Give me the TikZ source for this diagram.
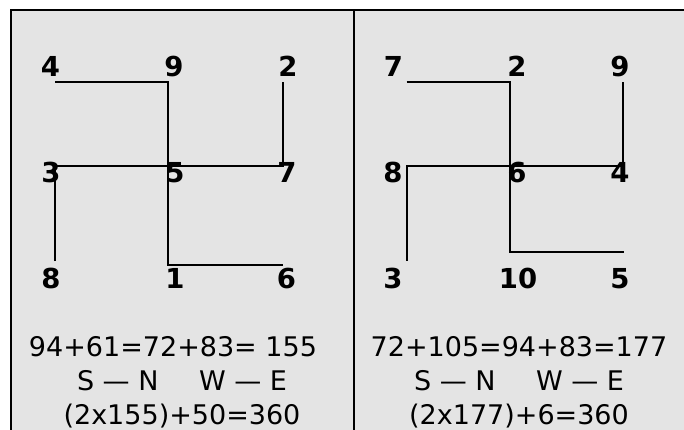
\documentclass[tikz,border=0pt]{standalone}
\usepackage{fontspec}
\setmainfont{DejaVu Sans}
\definecolor{panelgray}{HTML}{E4E4E4}

\begin{document}
\begin{tikzpicture}[x=1pt, y=-1pt,
    num/.style={font=\fontsize{27.5}{27.5}\selectfont\bfseries, inner sep=0pt},
    sumline/.style={font=\fontsize{27}{33}\selectfont, inner sep=0pt, anchor=base},
    arm/.style={draw=black, line width=1.7pt},
    frame/.style={draw=black, line width=2.2pt},
  ]

  \useasboundingbox (0,0) rectangle (684,430);

  % ---- panels
  \fill[panelgray] (11,9.75) rectangle (684,430);
  \draw[frame] (11,430) -- (11,9.75) -- (684,9.75);
  \draw[frame] (353.7,9.75) -- (353.7,430);

  % ---- left square
  \foreach \n/\x/\y in {4/50.5/66.5, 9/174/66.5, 2/288/66.5,
                        3/51/172.5, 5/175/172.5, 7/287/172.5,
                        8/51/278.5, 1/175/278.5, 6/286.5/278.5} {
    \node[num] (l\n) at (\x,\y) {\n};
  }

  \coordinate (la) at (55,81.7);
  \coordinate (lb) at (168.3,81.7);
  \coordinate (lc) at (168.3,265);
  \coordinate (ld) at (283.3,265);
  \coordinate (le) at (55,261);
  \coordinate (lf) at (55,165.7);
  \coordinate (lg) at (283.3,165.7);
  \coordinate (lh) at (283.3,81.7);
  \draw[arm] (la) -- (lb) -- (lc) -- (ld);
  \draw[arm] (le) -- (lf) -- (lg) -- (lh);

  % ---- right square
  \foreach \n/\x/\y in {7/393.5/66.5, 2/517/66.5, 9/620/66.5,
                        8/393/172.5, 6/517/172.5, 4/620/172.5,
                        3/393/278.5, 10/518/278.5, 5/620/278.5} {
    \node[num] (r\n) at (\x,\y) {\n};
  }

  \coordinate (ra) at (406.7,81.7);
  \coordinate (rb) at (510,81.7);
  \coordinate (rc) at (510,252.3);
  \coordinate (rd) at (624,252.3);
  \coordinate (re) at (406.7,260.7);
  \coordinate (rf) at (406.7,165.7);
  \coordinate (rg) at (623.3,165.7);
  \coordinate (rh) at (623.3,81.7);
  \draw[arm] (ra) -- (rb) -- (rc) -- (rd);
  \draw[arm] (re) -- (rf) -- (rg) -- (rh);

  % ---- sums under each square
  \node[sumline] (lsum) at (173,356) {94+61=72+83= 155};
  \node[sumline] (ldir) at (182,390) {S — N\hspace{1.5em}W — E};
  \node[sumline] (ltot) at (182,424) {(2x155)+50=360};

  \node[sumline] (rsum) at (519,356) {72+105=94+83=177};
  \node[sumline] (rdir) at (519,390) {S — N\hspace{1.5em}W — E};
  \node[sumline] (rtot) at (519,424) {(2x177)+6=360};

\end{tikzpicture}
\end{document}
